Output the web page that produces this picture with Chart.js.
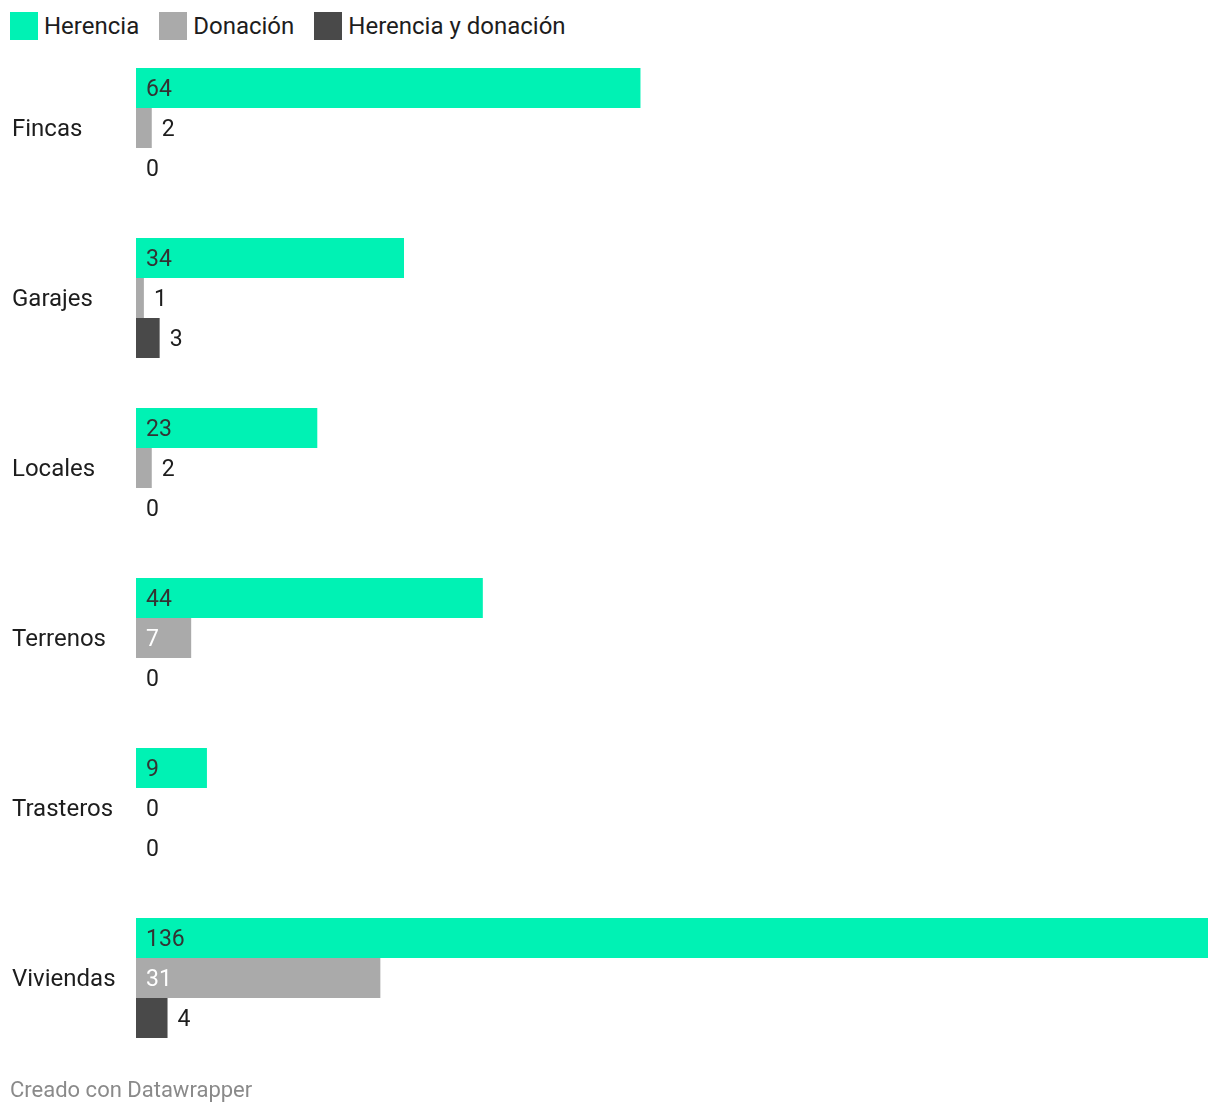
<!DOCTYPE html>
<html lang="es">
<head>
<meta charset="utf-8">
<script src="https://cdn.jsdelivr.net/npm/chart.js@4"></script>
<style>
  html, body { margin: 0; padding: 0; background: #fff; }
  body { width: 1220px; height: 1116px; position: relative; overflow: hidden; font-family: Roboto, sans-serif; }
  #legend { position: absolute; left: 10px; top: 12px; display: flex; font-size: 24px; color: #1d1d1d; }
  .item { display: flex; align-items: center; margin-right: 20px; }
  .swatch { width: 28px; height: 28px; margin-right: 6px; }
  #chart-wrap { position: absolute; left: 0; top: 0; width: 1220px; height: 1116px; }
  #footer { position: absolute; left: 10px; top: 1077px; font-size: 22px; color: #8a8a8a; }
</style>
</head>
<body>
<div id="legend"></div>
<div id="chart-wrap"><canvas id="chart" width="1220" height="1116"></canvas></div>
<div id="footer">Creado con Datawrapper</div>
<script>
const categories = ['Fincas', 'Garajes', 'Locales', 'Terrenos', 'Trasteros', 'Viviendas'];
const seriesNames = ['Herencia', 'Donación', 'Herencia y donación'];
const herencia = [64, 34, 23, 44, 9, 136];
const donacion = [2, 1, 2, 7, 0, 31];
const herenciaYDonacion = [0, 3, 0, 0, 0, 4];
const colors = ['#00f2b4', '#aaaaaa', '#494949'];
const insideText = ['#333333', '#ffffff', '#ffffff'];

const legend = document.getElementById('legend');
seriesNames.forEach((name, i) => {
  const item = document.createElement('div');
  item.className = 'item';
  item.innerHTML = '<span class="swatch" style="background:' + colors[i] + '"></span>' + name;
  legend.appendChild(item);
});

const catFont = '24px Roboto, sans-serif';
const valFont = '23px Roboto, sans-serif';

const labelsPlugin = {
  id: 'labels',
  afterDatasetsDraw(chart) {
    const ctx = chart.ctx;
    const x0 = chart.scales.x.getPixelForValue(0);
    ctx.save();
    ctx.textBaseline = 'middle';
    ctx.textAlign = 'left';
    // category labels
    ctx.font = catFont;
    ctx.fillStyle = '#1d1d1d';
    categories.forEach((c, i) => {
      ctx.fillText(c, 12, chart.scales.y.getPixelForValue(i) + 2);
    });
    // value labels
    ctx.font = valFont;
    chart.data.datasets.forEach((ds, di) => {
      const meta = chart.getDatasetMeta(di);
      meta.data.forEach((bar, i) => {
        const v = ds.data[i];
        const txt = String(v);
        const w = ctx.measureText(txt).width;
        const barW = bar.x - x0;
        if (barW > w + 20) {
          ctx.fillStyle = insideText[di];
          ctx.fillText(txt, x0 + 10, bar.y + 2);
        } else {
          ctx.fillStyle = '#1d1d1d';
          ctx.fillText(txt, bar.x + 10, bar.y + 2);
        }
      });
    });
    ctx.restore();
  }
};

new Chart(document.getElementById('chart'), {
  type: 'bar',
  data: {
    labels: categories,
    datasets: [herencia, donacion, herenciaYDonacion].map((d, i) => ({
      label: seriesNames[i],
      data: d,
      backgroundColor: colors[i],
      borderWidth: 0,
      barPercentage: 1,
      categoryPercentage: 120 / 170
    }))
  },
  options: {
    indexAxis: 'y',
    responsive: false,
    animation: false,
    maintainAspectRatio: false,
    layout: { padding: { left: 136, right: 12, top: 43, bottom: 53 } },
    plugins: { legend: { display: false }, tooltip: { enabled: false } },
    scales: {
      x: { display: false, min: 0, max: 136 },
      y: { display: false }
    }
  },
  plugins: [labelsPlugin]
});
</script>
</body>
</html>
